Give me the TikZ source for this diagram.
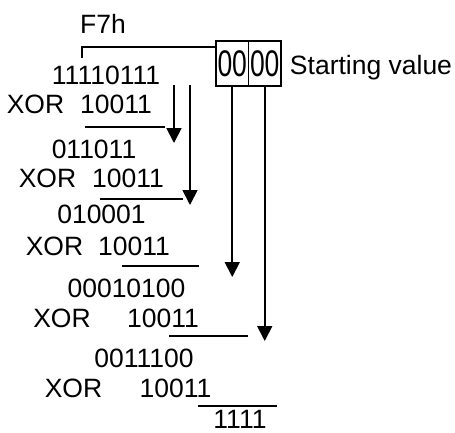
\documentclass[tikz,border=0pt]{standalone}
\usepackage{fontspec}
\setmainfont{Liberation Sans}
\usetikzlibrary{arrows.meta}

\begin{document}
\begin{tikzpicture}[x=1pt,y=-1pt,line width=1.8pt,>={Triangle[length=15pt,width=15pt]},
        every node/.style={inner sep=0pt,anchor=base,font=\fontsize{26.5}{30}\selectfont},
        cell/.style={draw,line width=1.8pt,anchor=center,minimum width=32.5pt,minimum height=45pt}]
        \useasboundingbox (0,0) rectangle (455,432);

        \node (F) at (103,33) {F7h};

        \node[cell] (C1) at (232.25,63.5) {\scalebox{1}[1.4]{00}};
        \node[cell] (C2) at (264.75,63.5) {\scalebox{1}[1.4]{00}};
        \node (SV) at (371,74) {Starting value};

        \node (R1) at (106,84) {11110111};
        \node (X1) at (35.5,113) {XOR};
        \node (P1) at (116,113) {10011};

        \node (R2) at (94,158) {011011};
        \node (X2) at (47.5,187) {XOR};
        \node (P2) at (128,187) {10011};

        \node (R3) at (101.5,223) {010001};
        \node (X3) at (54.5,255) {XOR};
        \node (P3) at (134,255) {10011};

        \node (R4) at (126.5,297) {00010100};
        \node (X4) at (62,327) {XOR};
        \node (P4) at (163,327) {10011};

        \node (R5) at (144,367) {0011100};
        \node (X5) at (73.5,397) {XOR};
        \node (P5) at (175.5,397) {10011};

        \node[text depth=0pt] (RES) at (240,428) {1111};

        % bracket from F7h to the register
        \coordinate (brk) at (82,58);
        \coordinate (join) at (216,47);
        \draw (brk) |- (join);

        % shift arrows
        \coordinate (A1s) at (174,85);
        \coordinate (A1e) at (174,143);
        \coordinate (A2s) at (190,85);
        \coordinate (A2e) at (190,205);
        \coordinate (A3e) at (232.25,277);
        \coordinate (A4e) at (264.75,341);

        \draw[->] (A1s) -- (A1e);
        \draw[->] (A2s) -- (A2e);
        \draw[->] (C1.south) -- (A3e);
        \draw[->] (C2.south) -- (A4e);

        % result lines
        \draw (85,127) -- (165,127);
        \draw (100,199) -- (183,199);
        \draw (122,266) -- (199,266);
        \draw (169,336) -- (248,336);
        \draw (198,406) -- (277,406);

    \end{tikzpicture}
\end{document}
